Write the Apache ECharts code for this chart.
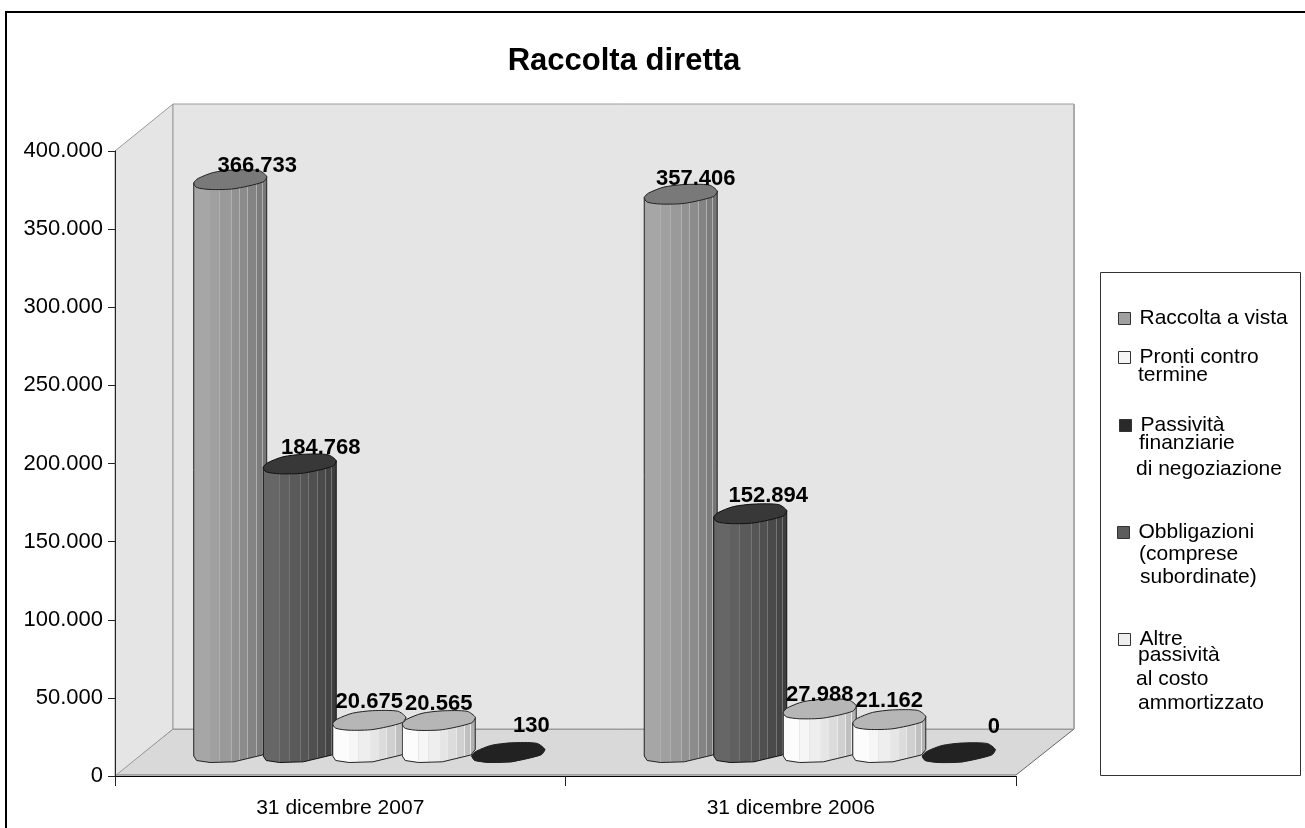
<!DOCTYPE html>
<html>
<head>
<meta charset="utf-8">
<script src="https://cdn.jsdelivr.net/npm/echarts@6/dist/echarts.min.js"></script>
<style>
  html, body { margin: 0; padding: 0; background: #fff; }
  #chart { width: 1305px; height: 828px; }
</style>
</head>
<body>
<div id="chart"></div>
<script>
const categories = ['31 dicembre 2007', '31 dicembre 2006'];

// one array per series, same order as categories
const raccoltaVista = [366733, 357406];
const obbligazioni = [184768, 152894];
const prontiTermine = [20675, 27988];
const altrePassivita = [20565, 21162];
const passivitaFinanziarie = [130, 0];

const FONT = '"Liberation Sans", Arial, sans-serif';
const it = v => String(v).replace(/\B(?=(\d{3})+$)/g, '.');

// wall depth of the fake 3D box, px
const DEPTH_X = 58;
const DEPTH_Y = 47;
const CAP_RY = 10;
// the cylinders in the original are rough polygons, keep that outline
const capShape = [[-1, .35], [-.88, -.1], [-.46, -.7], [.09, -.95], [.78, -.9], [1, -.3], [.9, .25], [.1, .93], [-.55, 1], [-.92, .8]];
const rimShape = [[-.92, .8], [-.55, 1], [.1, .93], [.88, .25]];
const stripEdges = [.22, .35, .51, .615, .73, .845, .925];

const looks = {
  mid: { strips: ['#a6a6a6', '#a0a0a0', '#9a9a9a', '#929292', '#8c8c8c', '#848484', '#7c7c7c', '#767676'], seam: '#b0b0b0', cap: '#797979', line: '#222' },
  dark: { strips: ['#666', '#606060', '#5a5a5a', '#555', '#505050', '#4a4a4a', '#444', '#3e3e3e'], seam: '#747474', cap: '#383838', line: '#111' },
  white: { strips: ['#fcfcfc', '#f6f6f6', '#eee', '#e6e6e6', '#dcdcdc', '#d0d0d0', '#c0c0c0', '#b0b0b0'], seam: '#e8e8e8', cap: '#b6b6b6', line: '#222' },
  black: { strips: ['#222', '#222', '#222', '#222', '#222', '#222', '#222', '#222'], seam: '#222', cap: '#222', line: '#222' }
};

function stripFill(look) {
  const stops = [];
  look.strips.forEach((c, i) => {
    const from = i ? stripEdges[i - 1] : 0;
    const to = i < stripEdges.length ? stripEdges[i] : 1;
    stops.push({ offset: from, color: i ? look.seam : c });
    stops.push({ offset: i ? from + .012 : 0, color: i ? look.seam : c });
    stops.push({ offset: i ? from + .012 : 0, color: c });
    stops.push({ offset: to, color: c });
  });
  return { type: 'linear', x: 0, y: 0, x2: 1, y2: 0, colorStops: stops };
}

// [dx, dy] of each value label from the cap centre, per category
const seriesDefs = [
  { name: 'Raccolta a vista', data: raccoltaVista, look: looks.mid, swatch: '#a0a0a0', nudge: [[27, -14], [15, -15]] },
  { name: 'Obbligazioni (comprese subordinate)', data: obbligazioni, look: looks.dark, swatch: '#5c5c5c', nudge: [[21, -16], [18, -18]] },
  { name: 'Pronti contro termine', data: prontiTermine, look: looks.white, swatch: '#f4f4f4', nudge: [[0, -18], [0, -14]] },
  { name: 'Altre passività al costo ammortizzato', data: altrePassivita, look: looks.white, swatch: '#eee', nudge: [[0, -16], [0, -18]] },
  { name: 'Passività finanziarie di negoziazione', data: passivitaFinanziarie, look: looks.black, swatch: '#2a2a2a', nudge: [[23, -26], [35, -26]] }
];

function renderCylinder(def, slot, params, api) {
  const cat = api.value(0);
  const val = api.value(1);
  const band = api.size([1, 0])[0];
  const top = api.coord([cat, val]);
  const bottom = api.coord([cat, 0]);
  const cx = bottom[0] + DEPTH_X / 2 + (slot - 2) * band * .1543;
  const rx = band * .081;
  const topY = top[1] - DEPTH_Y / 2;
  const baseY = bottom[1] - DEPTH_Y / 2;
  const look = def.look;
  const pt = (p, y) => [cx + p[0] * rx, y + p[1] * CAP_RY];

  const body = [pt(capShape[0], topY)]
    .concat([pt(capShape[0], baseY)], rimShape.map(p => pt(p, baseY)), [pt(capShape[5], baseY), pt(capShape[5], topY)]);
  const nudge = def.nudge[cat];
  return {
    type: 'group',
    children: [
      { type: 'polygon', shape: { points: body }, style: { fill: stripFill(look), stroke: look.line, lineWidth: 1 } },
      { type: 'polygon', shape: { points: capShape.map(p => pt(p, topY)), smooth: .25 }, style: { fill: look.cap, stroke: look.line, lineWidth: 1 } },
      {
        type: 'text', z2: 100,
        style: {
          text: it(val), x: cx + nudge[0], y: topY + nudge[1],
          align: 'center', verticalAlign: 'middle',
          font: 'bold 22px ' + FONT, fill: '#000'
        }
      }
    ]
  };
}

function renderBox(params, api) {
  const o = api.coord([0, 0]);
  const band = api.size([1, 0])[0];
  const x0 = o[0] - band / 2;
  const x1 = x0 + band * categories.length;
  const y0 = o[1];
  const y1 = api.coord([0, 400000])[1];
  const edge = { stroke: '#9a9a9a', lineWidth: 1 };
  return {
    type: 'group',
    children: [
      { type: 'polygon', shape: { points: [[x0, y0 - 1], [x0 + DEPTH_X, y0 - DEPTH_Y], [x1 + DEPTH_X, y0 - DEPTH_Y], [x1, y0 - 1]] }, style: { fill: '#d9d9d9', stroke: '#666', lineWidth: 1 } },
      { type: 'polygon', shape: { points: [[x0, y0], [x0, y1], [x0 + DEPTH_X, y1 - DEPTH_Y], [x0 + DEPTH_X, y0 - DEPTH_Y]] }, style: Object.assign({ fill: '#e5e5e5' }, edge) },
      { type: 'rect', shape: { x: x0 + DEPTH_X, y: y1 - DEPTH_Y, width: x1 - x0, height: y0 - y1 }, style: Object.assign({ fill: '#e5e5e5' }, edge) },
      { type: 'line', shape: { x1: x1 + DEPTH_X, y1: y1 - DEPTH_Y, x2: x1 + DEPTH_X, y2: y0 - DEPTH_Y }, style: { stroke: '#aaa', lineWidth: 2 } }
    ]
  };
}

// legend: first line goes through the legend component, the rest are plain text
const legendEntries = [
  { name: 'Raccolta a vista', swatchX: 1118, y: 317, lines: [['Raccolta a vista', 1139, 317]] },
  { name: 'Pronti contro termine', swatchX: 1118, y: 356, lines: [['Pronti contro', 1139, 356], ['termine', 1138, 375]] },
  { name: 'Passività finanziarie di negoziazione', swatchX: 1119, y: 424, lines: [['Passività', 1140, 424], ['finanziarie', 1139, 443], ['di negoziazione', 1136, 469]] },
  { name: 'Obbligazioni (comprese subordinate)', swatchX: 1117, y: 531, lines: [['Obbligazioni', 1139, 531], ['(comprese', 1139, 554], ['subordinate)', 1140, 577]] },
  { name: 'Altre passività al costo ammortizzato', swatchX: 1118, y: 638, lines: [['Altre', 1139, 637], ['passività', 1138, 655], ['al costo', 1136, 679], ['ammortizzato', 1138, 703]] }
];

const graphicItems = [
  { type: 'rect', z: -1, shape: { x: 6, y: 12, width: 1320, height: 860 }, style: { fill: '#fff', stroke: '#000', lineWidth: 2 } },
  { type: 'rect', shape: { x: 1100.5, y: 272.5, width: 200, height: 503 }, style: { fill: '#fff', stroke: '#333', lineWidth: 1 } }
];
legendEntries.forEach(e => e.lines.slice(1).forEach(l => {
  graphicItems.push({
    type: 'text', z: 2,
    style: { text: l[0], x: l[1], y: l[2], verticalAlign: 'middle', font: '21px ' + FONT, fill: '#000' }
  });
}));

const option = {
  animation: false,
  title: {
    text: 'Raccolta diretta', left: 619, top: 41, textAlign: 'center',
    textStyle: { fontFamily: FONT, fontSize: 31, fontWeight: 'bold', color: '#000' }
  },
  grid: { left: 115, top: 151, right: 289, bottom: 52 },
  xAxis: {
    type: 'category', data: categories, z: 5,
    axisLine: { lineStyle: { color: '#000', width: 1 } },
    axisTick: { show: true, length: 10, alignWithLabel: false, lineStyle: { color: '#222' } },
    axisLabel: { margin: 22, fontFamily: FONT, fontSize: 21, color: '#000' }
  },
  yAxis: {
    type: 'value', min: 0, max: 400000, interval: 50000, z: 5,
    splitLine: { show: false },
    axisLine: { show: true, lineStyle: { color: '#222', width: 1 } },
    axisTick: { show: true, length: 7, lineStyle: { color: '#222' } },
    axisLabel: { margin: 12, fontFamily: FONT, fontSize: 22, color: '#000', formatter: v => it(v) }
  },
  legend: legendEntries.map(e => ({
    data: [{ name: e.name, icon: 'rect' }],
    left: e.swatchX, top: e.y - 9, z: 3,
    orient: 'vertical', padding: 0,
    itemWidth: 12, itemHeight: 12, itemGap: 0,
    selectedMode: false,
    itemStyle: { borderColor: '#333', borderWidth: 1 },
    formatter: () => e.lines[0][0],
    textStyle: { fontFamily: FONT, fontSize: 21, color: '#000', padding: [0, 0, 0, 4] }
  })),
  graphic: graphicItems,
  series: [
    { type: 'custom', name: 'box', z: 1, silent: true, data: [[0, 0]], renderItem: renderBox }
  ].concat(seriesDefs.map((def, slot) => ({
    type: 'custom',
    name: def.name,
    z: 3,
    silent: true,
    itemStyle: { color: def.swatch },
    data: def.data.map((v, i) => [i, v]),
    encode: { x: 0, y: 1 },
    renderItem: (params, api) => renderCylinder(def, slot, params, api)
  })))
};

echarts.init(document.getElementById('chart')).setOption(option);
</script>
</body>
</html>
